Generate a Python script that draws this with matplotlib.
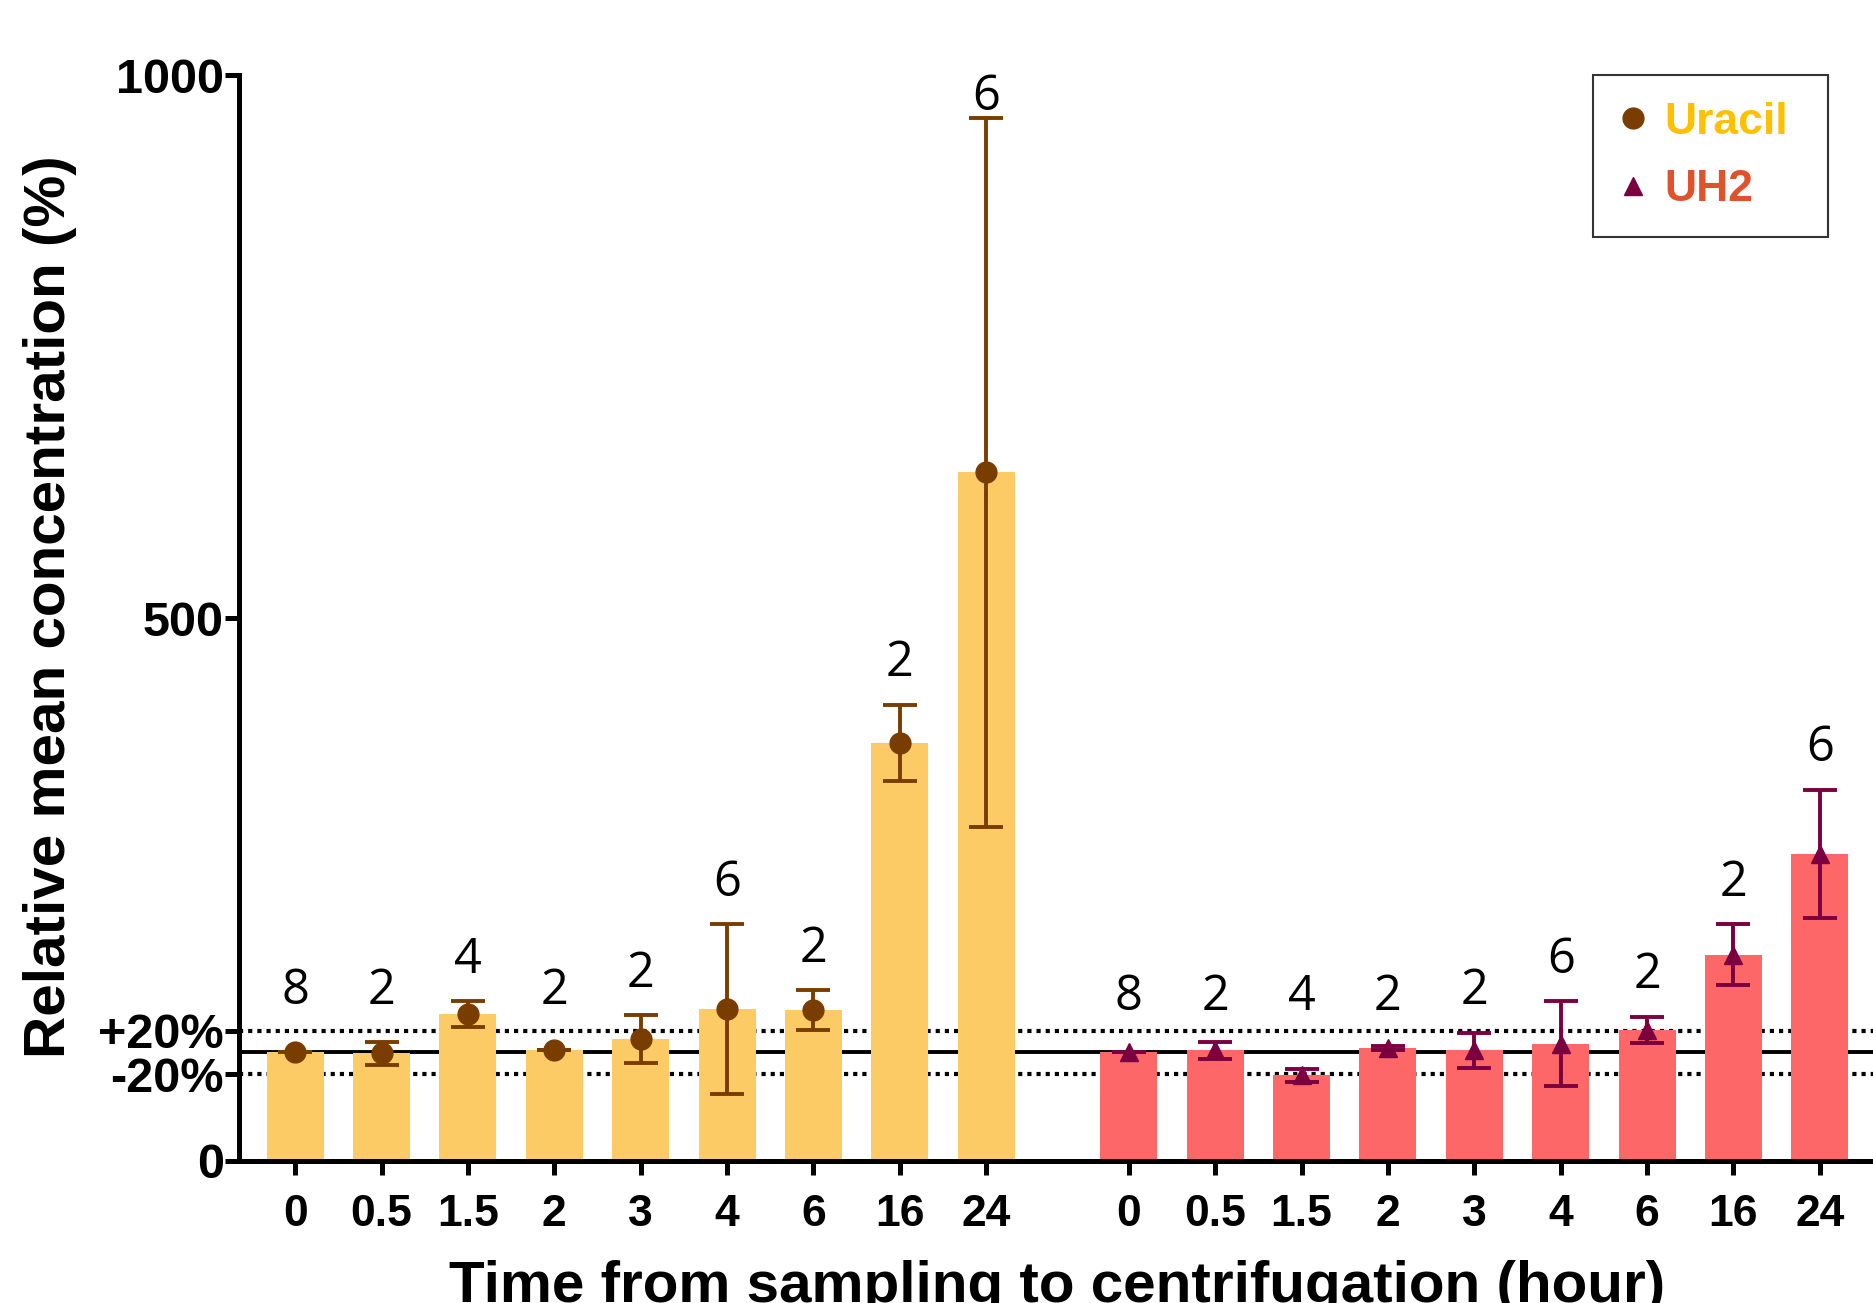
import matplotlib
matplotlib.use("Agg")
import matplotlib.pyplot as plt
import numpy as np

# ---- data ----
times = ["0", "0.5", "1.5", "2", "3", "4", "6", "16", "24"]
uracil_mean = [100, 99, 135, 102, 112, 140, 139, 385, 634]
uracil_err = [0, 11, 12, 0, 22, 78, 18, 35, 326]
uracil_n = [8, 2, 4, 2, 2, 6, 2, 2, 6]
uh2_mean = [100, 102, 79, 104, 102, 108, 121, 190, 283]
uh2_err = [0, 8, 6, 2, 16, 39, 12, 28, 59]
uh2_n = [8, 2, 4, 2, 2, 6, 2, 2, 6]
yticks = [0, 500, 1000]
ref_lines = [80, 100, 120]
ref_labels = ["-20%", "+20%"]

# ---- style ----
BOLD = ["Liberation Sans", "DejaVu Sans"]
uracil_bar = "#FCCB66"
uracil_mk = "#7A3D00"
uh2_bar = "#FD6767"
uh2_mk = "#7A0040"

fig = plt.figure(figsize=(18.73, 13.03), dpi=100)
ax = fig.add_axes([0.1276, 0.109, 0.874, 0.8334])

x1 = np.arange(len(times), dtype=float)
gap = 9.65
x2 = x1 + gap

# reference lines (behind bars)
ax.axhline(ref_lines[1], color="black", lw=2.8, zorder=1)
ax.axhline(ref_lines[0], color="black", lw=3.0, ls=(0, (1, 1.2)), zorder=1)
ax.axhline(ref_lines[2], color="black", lw=3.0, ls=(0, (1, 1.2)), zorder=1)

ax.bar(x1, uracil_mean, width=0.66, color=uracil_bar, zorder=2)
ax.bar(x2, uh2_mean, width=0.66, color=uh2_bar, zorder=2)

ax.errorbar(x1, uracil_mean, yerr=uracil_err, fmt="none", ecolor=uracil_mk,
            elinewidth=2.8, capsize=12, capthick=2.8, zorder=3)
ax.errorbar(x2, uh2_mean, yerr=uh2_err, fmt="none", ecolor=uh2_mk,
            elinewidth=2.8, capsize=12, capthick=2.8, zorder=3)
h1, = ax.plot(x1, uracil_mean, "o", color=uracil_mk, ms=15, zorder=4, ls="none")
h2, = ax.plot(x2, uh2_mean, "^", color=uh2_mk, ms=13, zorder=4, ls="none")

# n labels
for xs, m, e, ns, mn in [(x1, uracil_mean, uracil_err, uracil_n, 156),
                         (x2, uh2_mean, uh2_err, uh2_n, 151)]:
    for xi, mi, ei, ni in zip(xs, m, e, ns):
        y = min(max(mi + ei + 38, mn), 980)
        ax.text(xi, y, str(ni), ha="center", va="center", fontsize=35,
                family=["Open Sans", "DejaVu Sans"], zorder=5)

ax.set_xlim(-0.65, 18.3)
ax.set_ylim(0, 1000)

ax.set_xticks(np.concatenate([x1, x2]))
ax.set_xticklabels(times + times)
ax.set_yticks(yticks + [ref_lines[0], ref_lines[2]])
ax.set_yticklabels([str(t) for t in yticks] + ref_labels)
for lab in ax.get_xticklabels():
    lab.set_family(BOLD)
    lab.set_fontweight("bold")
    lab.set_fontsize(32)
for lab in ax.get_yticklabels():
    lab.set_family(BOLD)
    lab.set_fontweight("bold")
    lab.set_fontsize(35)
ax.tick_params(axis="both", width=3.6, length=10, direction="out")
ax.tick_params(axis="x", pad=14)
ax.tick_params(axis="y", pad=1)

for s in ["top", "right"]:
    ax.spines[s].set_visible(False)
for s in ["left", "bottom"]:
    ax.spines[s].set_linewidth(3.6)

ax.set_ylabel("Relative mean concentration (%)", fontsize=42, fontweight="bold",
              family=BOLD)
ax.yaxis.set_label_coords(-0.099, 0.51)
ax.set_xlabel("Time from sampling to centrifugation (hour)", fontsize=42,
              fontweight="bold", family=BOLD, labelpad=18)

leg = ax.legend([h1, h2], ["Uracil", "UH2"], loc="upper left",
                bbox_to_anchor=(0.827, 0.0, 0.1436, 1.0), mode="expand",
                frameon=True, fancybox=False,
                prop={"family": BOLD, "weight": "bold", "size": 32},
                borderpad=0.6, labelspacing=0.6, handlelength=0.6,
                handletextpad=0.4, borderaxespad=0.0)
leg.get_frame().set_edgecolor("black")
leg.get_frame().set_linewidth(1.5)
leg.get_texts()[0].set_color("#FFC000")
leg.get_texts()[1].set_color("#E0522C")

fig.savefig("out.png", dpi=100)
